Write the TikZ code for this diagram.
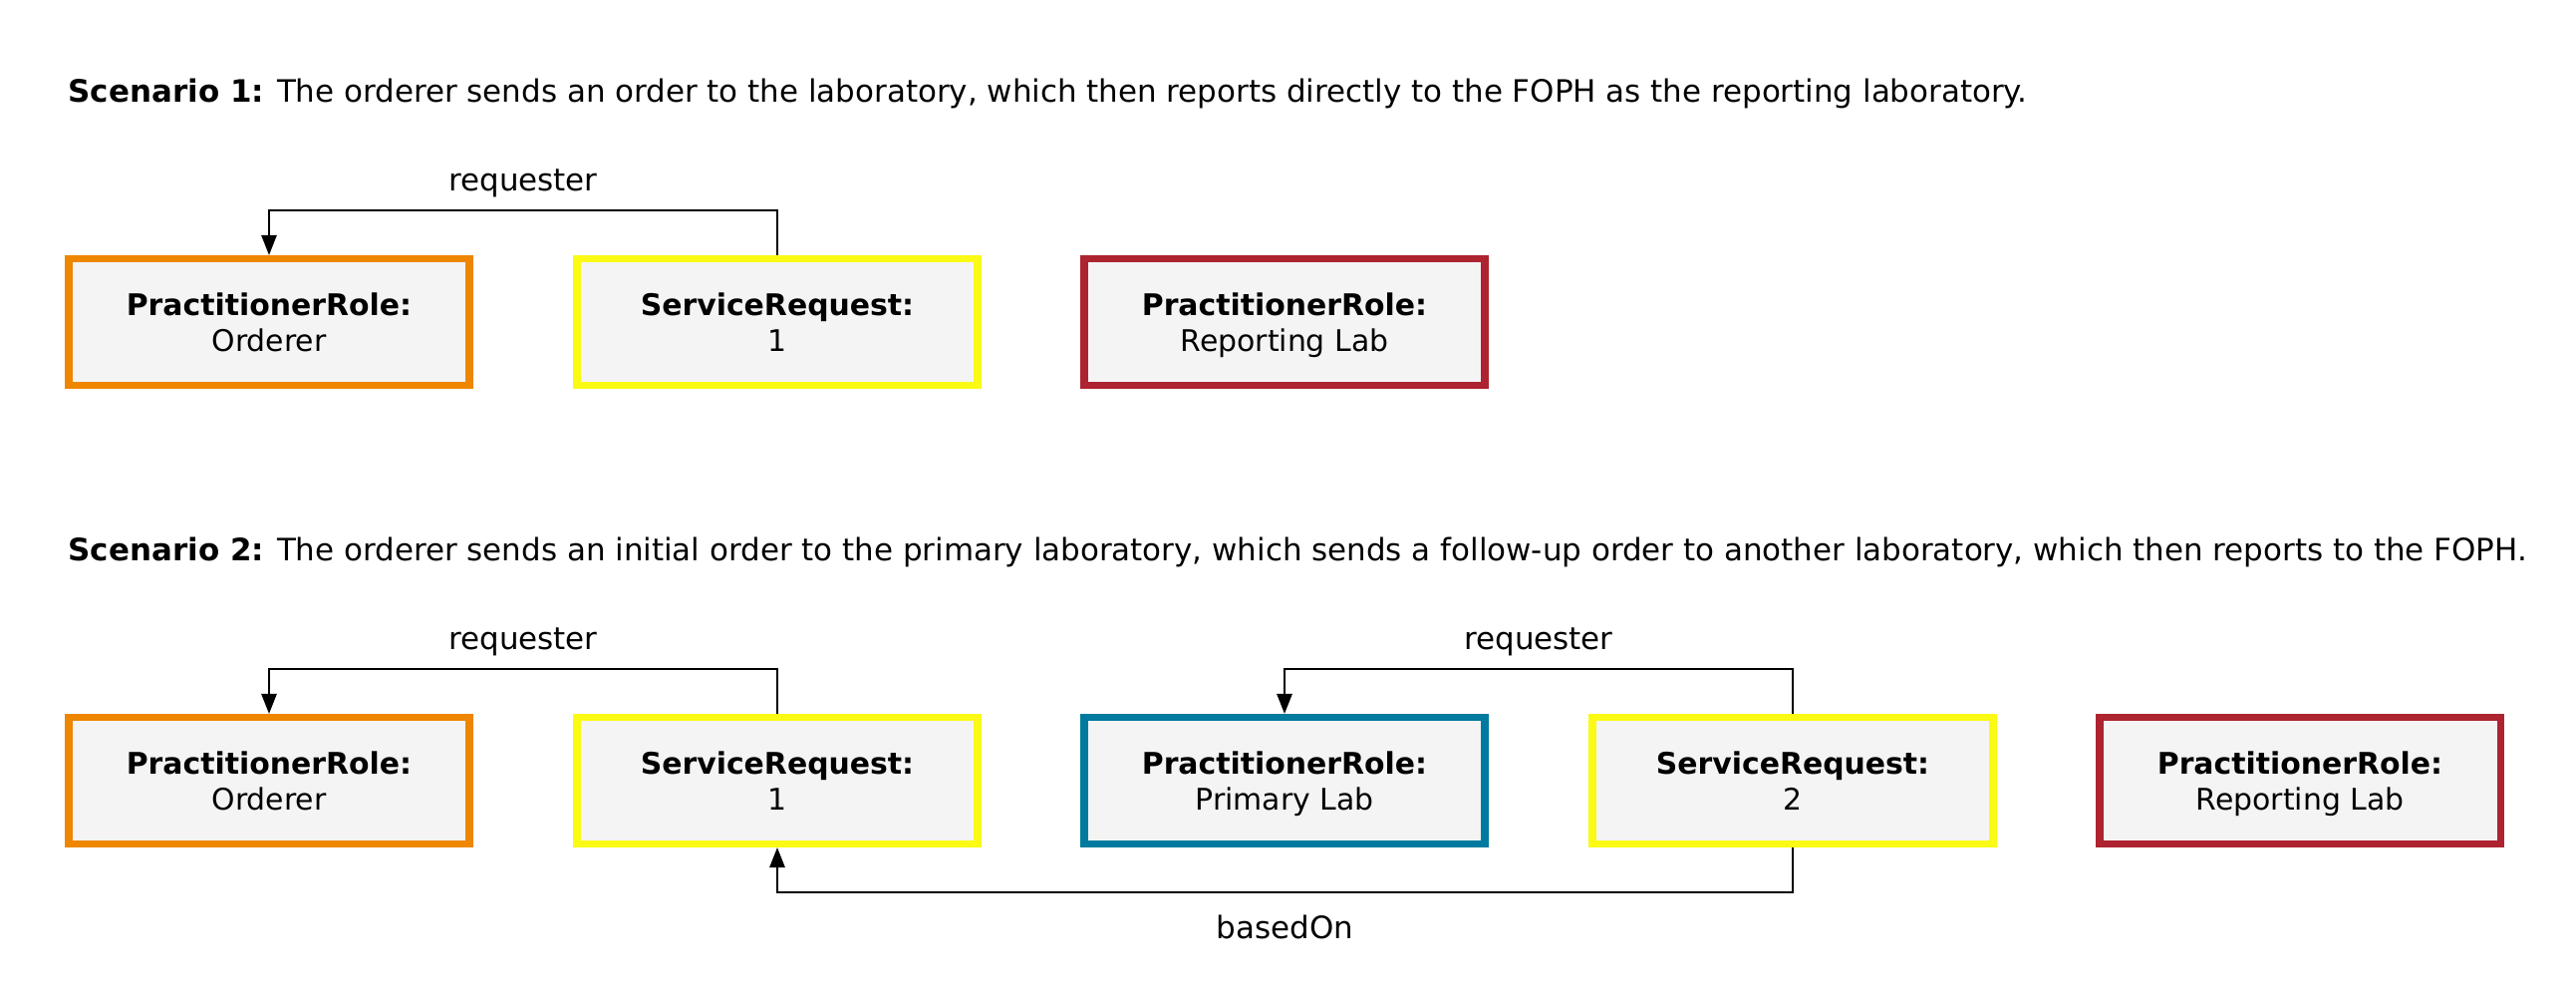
\documentclass[tikz,border=0pt]{standalone}
\usepackage{fontspec}
\setmainfont{DejaVu Sans}
\usetikzlibrary{arrows.meta}

\definecolor{ordorange}{RGB}{238,134,0}
\definecolor{reqyellow}{RGB}{250,250,20}
\definecolor{repred}{RGB}{173,35,48}
\definecolor{primteal}{RGB}{0,122,158}
\definecolor{boxgray}{RGB}{244,244,244}

\tikzset{
  resbox/.style={draw, line width=2pt, fill=boxgray, minimum width=4.02cm,
    minimum height=1.27cm, align=center, text depth=0pt,
    font=\fontsize{8.5}{10.3}\selectfont},
  rel/.style={line width=0.7pt, -{Triangle[length=5.7pt,width=4.3pt]}},
  lbl/.style={font=\fontsize{8.8}{10}\selectfont}
}

\begin{document}
\begin{tikzpicture}
\useasboundingbox (0,0) rectangle (25.85,-10.03);

% scenario 1
\node[lbl, anchor=west, inner sep=0] (sc1) at (0.68,-0.94) {\textbf{Scenario 1:} The orderer sends an order to the laboratory, which then reports directly to the FOPH as the reporting laboratory.};
\node[resbox, draw=ordorange] (ord1) at (2.70,-3.23) {\textbf{PractitionerRole:}\\Orderer};
\node[resbox, draw=reqyellow] (sr1) at (7.80,-3.23) {\textbf{ServiceRequest:}\\1};
\node[resbox, draw=repred] (rep1) at (12.89,-3.23) {\textbf{PractitionerRole:}\\Reporting Lab};
\draw[rel] (sr1.north) -- ++(0,0.45) -| (ord1.north) node[lbl, pos=0.25, above=0pt] (req1) {requester};

% scenario 2
\node[lbl, anchor=west, inner sep=0] (sc2) at (0.68,-5.54) {\textbf{Scenario 2:} The orderer sends an initial order to the primary laboratory, which sends a follow-up order to another laboratory, which then reports to the FOPH.};
\node[resbox, draw=ordorange] (ord2) at (2.70,-7.83) {\textbf{PractitionerRole:}\\Orderer};
\node[resbox, draw=reqyellow] (sr2a) at (7.80,-7.83) {\textbf{ServiceRequest:}\\1};
\node[resbox, draw=primteal] (prim2) at (12.89,-7.83) {\textbf{PractitionerRole:}\\Primary Lab};
\node[resbox, draw=reqyellow] (sr2b) at (17.99,-7.83) {\textbf{ServiceRequest:}\\2};
\node[resbox, draw=repred] (rep2) at (23.08,-7.83) {\textbf{PractitionerRole:}\\Reporting Lab};
\draw[rel] (sr2a.north) -- ++(0,0.45) -| (ord2.north) node[lbl, pos=0.25, above=0pt] (req2) {requester};
\draw[rel] (sr2b.north) -- ++(0,0.45) -| (prim2.north) node[lbl, pos=0.25, above=0pt] (req3) {requester};
\draw[rel] (sr2b.south) -- ++(0,-0.45) -| (sr2a.south) node[lbl, pos=0.25, below=3pt] (based) {basedOn};
\end{tikzpicture}
\end{document}
